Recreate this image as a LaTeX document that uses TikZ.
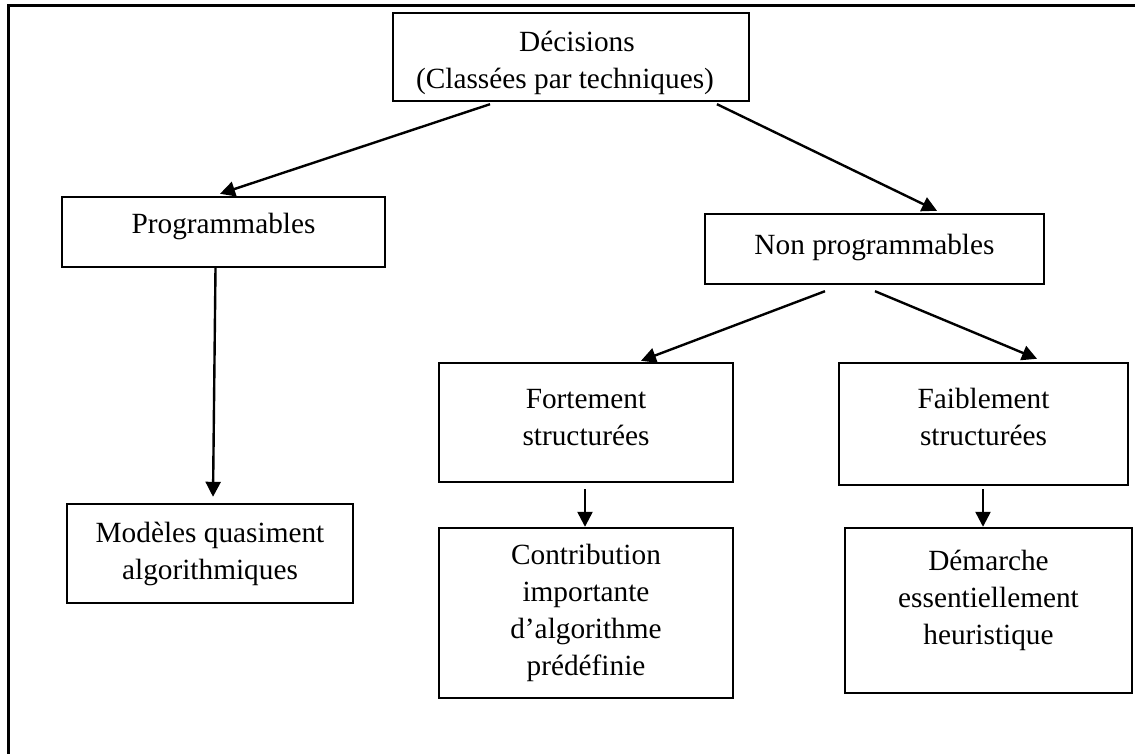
\documentclass[tikz,border=0pt]{standalone}
\usepackage{fontspec}
\setmainfont{Liberation Serif}
\usetikzlibrary{arrows.meta}
\begin{document}
\begin{tikzpicture}[x=1pt,y=-1pt,
  box/.style={draw=black,line width=2.4pt,rectangle,inner sep=0pt},
  txt/.style={align=center,inner sep=0pt,font=\fontsize{29.3}{37}\selectfont},
  arr/.style={line width=2.4pt,-{Triangle[length=15pt,width=15pt]}}]
\useasboundingbox (0,0) rectangle (1135,754);
% page frame, open on the right and at the bottom
\draw[line width=3pt] (8.5,754) -- (8.5,6) -- (1135,6);

% boxes
\node[box,minimum width=356pt,minimum height=88pt] (dec) at (571,57) {};
\node[box,minimum width=323pt,minimum height=70pt] (prog) at (223.5,232) {};
\node[box,minimum width=339pt,minimum height=70pt] (nonprog) at (874.5,249) {};
\node[box,minimum width=294pt,minimum height=119pt] (fort) at (586,422.5) {};
\node[box,minimum width=289pt,minimum height=122pt] (faib) at (983.5,424) {};
\node[box,minimum width=286pt,minimum height=99pt] (mod) at (210,553.5) {};
\node[box,minimum width=294pt,minimum height=170pt] (contrib) at (586,613) {};
\node[box,minimum width=287pt,minimum height=165pt] (dem) at (988.5,610.5) {};

% texts (a negative yshift moves a label down)
\node[txt] (dect) at ([yshift=-6pt]dec.center) {\hspace*{12pt}Décisions\\(Classées par techniques)\hspace*{12pt}};
\node[txt] (progt) at ([yshift=6pt]prog.center) {Programmables};
\node[txt] (nonprogt) at ([yshift=2pt]nonprog.center) {Non programmables};
\node[txt] (fortt) at ([yshift=5pt]fort.center) {Fortement\\structurées};
\node[txt] (faibt) at ([yshift=7pt]faib.center) {Faiblement\\structurées};
\node[txt] (modt) at (mod.center) {Modèles quasiment\\algorithmiques};
\node[txt] (contribt) at (contrib.center) {Contribution\\importante\\d’algorithme\\prédéfinie};
\node[txt] (demt) at ([yshift=10pt]dem.center) {Démarche\\essentiellement\\heuristique};

% connectors
\draw[arr] ([xshift=-81pt,yshift=-2pt]dec.south) -- ([xshift=-3.5pt,yshift=2pt]prog.north);
\draw[arr] ([xshift=146pt,yshift=-2pt]dec.south) -- ([xshift=62.5pt,yshift=2pt]nonprog.north);
\draw[arr] ([xshift=-8pt]prog.south) -- ([xshift=3pt,yshift=6pt]mod.north);
\draw[arr] ([xshift=-49.5pt,yshift=-6pt]nonprog.south) -- ([xshift=55pt,yshift=1pt]fort.north);
\draw[arr] ([xshift=0.5pt,yshift=-6pt]nonprog.south) -- ([xshift=53.5pt,yshift=3pt]faib.north);
\draw[arr] ([xshift=-1pt,yshift=-6pt]fort.south) -- ([xshift=-1pt]contrib.north);
\draw[arr] ([xshift=-0.5pt,yshift=-3pt]faib.south) -- ([xshift=-5.5pt]dem.north);
\end{tikzpicture}
\end{document}
